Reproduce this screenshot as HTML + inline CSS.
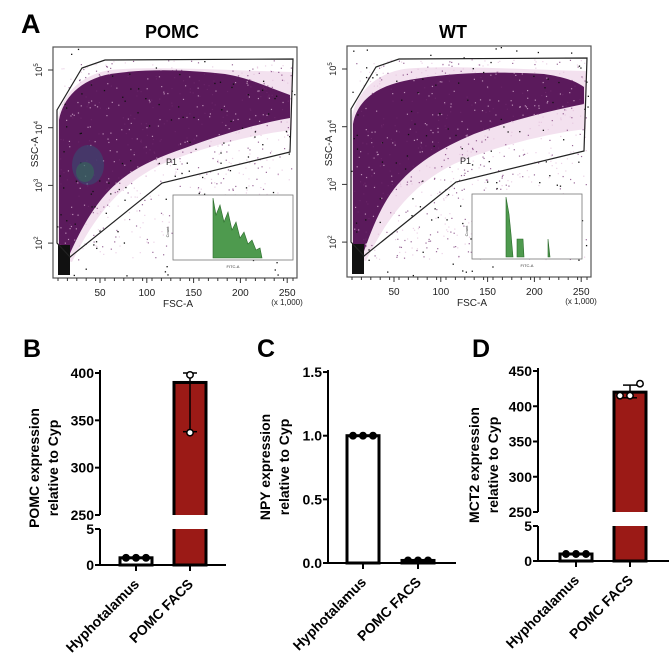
<!DOCTYPE html>
<html><head><meta charset="utf-8"><style>
html,body{margin:0;padding:0;background:#fff;}
svg{display:block;font-family:"Liberation Sans",Arial,sans-serif;}
.t{font-weight:bold;font-size:14px;}
</style></head><body>
<svg id="fig" width="669" height="661" viewBox="0 0 669 661">
<text x="21" y="33" font-size="27" font-weight="bold">A</text>
<text x="172" y="38" font-size="18" font-weight="bold" text-anchor="middle">POMC</text>
<text x="453" y="38" font-size="18" font-weight="bold" text-anchor="middle">WT</text>
<g id="flowA"></g>
<g id="flowB" transform="translate(294,-1)"></g>
<text x="23" y="357" font-size="25" font-weight="bold">B</text>
<text x="257" y="357" font-size="25" font-weight="bold">C</text>
<text x="472" y="357" font-size="25" font-weight="bold">D</text>
<g id="chartB"></g>
<g id="chartC"></g>
<g id="chartD"></g>
</svg>
<script>
// ---- bar chart data ----
const categories = ["Hyphotalamus", "POMC FACS"];
const pomcMeans = [1, 390];
const pomcPoints = [[1, 1, 1], [398, 337]];
const pomcErr = [[1, 1], [338, 400]];
const npyMeans = [1.0, 0.02];
const npyPoints = [[1, 1, 1], [0.02, 0.02, 0.02]];
const mct2Means = [1, 420];
const mct2Points = [[1, 1, 1], [415, 415, 432]];
const mct2Err = [[1, 1], [412, 430]];
const pomcTicksUpper = [250, 300, 350, 400];
const pomcTicksLower = [0, 5];
const npyTicks = [0.0, 0.5, 1.0, 1.5];
const npyTickLabels = ["0.0", "0.5", "1.0", "1.5"];
const mct2TicksUpper = [250, 300, 350, 400, 450];
const mct2TicksLower = [0, 5];
// ---- flow axis labels ----
const fscTicks = ["50", "100", "150", "200", "250"];
const sscTicks = ["5", "4", "3", "2"];

const NS = "http://www.w3.org/2000/svg";
function mk(parent, tag, attrs, txt) {
  const e = document.createElementNS(NS, tag);
  for (const k in attrs) e.setAttribute(k, attrs[k]);
  if (txt !== undefined) e.textContent = txt;
  parent.appendChild(e);
  return e;
}

// ---------- flow plots ----------
let seed = 7;
function rnd() { seed = (seed * 16807) % 2147483647; return seed / 2147483647; }
function flow(g, pomc) {
  const L = 53, T = 47, R = 297, B = 278;
  const fr = mk(g, "rect", {x: L, y: T, width: R - L, height: B - T, fill: "#fff", stroke: "#555", "stroke-width": 1.2});
  
  
  // light pink fringe
  mk(g, "path", {d: "M58,258 L58,118 C62,95 80,75 110,70 C150,66 220,70 292,72 L292,130 C250,135 200,148 160,165 C120,185 95,215 72,262 Z", fill: "#f3e1ef"});
  // dense purple
  const dp = mk(g, "path", {d: pomc ?
    "M59,252 L59,120 C63,98 80,80 110,74 C150,68 190,70 225,74 C250,78 270,88 290,95 L290,118 C255,124 220,135 185,148 C150,160 125,172 105,195 C90,212 78,235 68,258 Z" :
    "M59,252 L59,125 C63,102 82,88 110,82 C150,74 200,72 250,75 C270,78 282,82 290,88 L290,105 C255,112 215,122 180,135 C145,150 120,165 100,190 C85,210 76,235 68,258 Z",
    fill: "#5b1a5c"});
  
  
  // speckles
  for (let i = 0; i < 700; i++) {
    const x = 60 + rnd() * 232, y = 60 + rnd() * 200;
    mk(g, "rect", {x: x, y: y, width: 1.2, height: 1.2, fill: rnd() < 0.5 ? "#6e2a6c" : "#e3bfdc", opacity: 0.7});
  }
  for (let i = 0; i < 120; i++) {
    mk(g, "rect", {x: 55 + rnd() * 240, y: 48 + rnd() * 228, width: 1.3, height: 1.3, fill: "#111"});
  }
  if (pomc) {
    mk(g, "ellipse", {cx: 88, cy: 165, rx: 16, ry: 20, fill: "#2d5a7a", opacity: 0.45});
    mk(g, "ellipse", {cx: 85, cy: 172, rx: 9, ry: 10, fill: "#2f7a55", opacity: 0.45});
  }
  mk(g, "rect", {x: 58, y: 245, width: 12, height: 30, fill: "#111"});
  const gate = mk(g, "polygon", {points: "57,243 57,110 82,68 105,60 293,59 290,152 162,183 70,257", fill: "none", stroke: "#222", "stroke-width": 1.2});
  
  
  mk(g, "text", {x: 166, y: 165, "font-size": 9, fill: "#222"}, "P1");
  const ix = pomc ? 173 : 178, iw = pomc ? 120 : 110;
  mk(g, "rect", {x: ix, y: 195, width: iw, height: 65, fill: "#fff", stroke: "#777", "stroke-width": 0.8});
  let hp;
  if (pomc) {
    hp = "M213,258 L213,198 L216,215 L220,205 L224,222 L228,212 L232,230 L236,222 L240,238 L244,232 L248,244 L252,240 L256,250 L260,248 L262,258 Z";
  } else {
    hp = "M212,258 L212,198 L215,215 L217,235 L219,258 Z M223,258 L223,240 L229,240 L230,258 Z M254,258 L254,240 L256,258 Z";
  }
  const h = mk(g, "path", {d: hp, fill: "#4e9a4e", stroke: "#2a6a2a", "stroke-width": 0.6});
  
  
  mk(g, "text", {x: ix + iw / 2, y: 268, "font-size": 4, "text-anchor": "middle", fill: "#333"}, "FITC-A");
  mk(g, "text", {x: ix - 4, y: 232, "font-size": 4, "text-anchor": "middle", fill: "#333", transform: `rotate(-90 ${ix - 4} 232)`}, "Count");
  fscTicks.forEach((t, i) => {
    const x = 100 + i * 46.8;
    mk(g, "line", {x1: x, y1: B, x2: x, y2: B + 5, stroke: "#333"});
    mk(g, "text", {x: x, y: 296, "font-size": 10, "text-anchor": "middle", fill: "#222"}, t);
  });
  for (let i = 0; i < 26; i++) mk(g, "line", {x1: 58 + i * 9.4, y1: B, x2: 58 + i * 9.4, y2: B + 3, stroke: "#333"});
  mk(g, "text", {x: 178, y: 307, "font-size": 10, "text-anchor": "middle", fill: "#222"}, "FSC-A");
  mk(g, "text", {x: 287, y: 305, "font-size": 8, "text-anchor": "middle", fill: "#222"}, "(x 1,000)");
  sscTicks.forEach((t, i) => {
    const y = 70 + i * 57.7;
    mk(g, "line", {x1: L - 5, y1: y, x2: L, y2: y, stroke: "#333"});
    const tx = mk(g, "text", {x: 42, y: y, "font-size": 9, "text-anchor": "middle", fill: "#222", transform: `rotate(-90 42 ${y})`});
    tx.textContent = "10";
    mk(tx, "tspan", {dy: -4, "font-size": 6}, t);
  });
  mk(g, "text", {x: 38, y: 152, "font-size": 10, "text-anchor": "middle", fill: "#222", transform: "rotate(-90 38 152)"}, "SSC-A");
}
flow(document.getElementById("flowA"), true);
flow(document.getElementById("flowB"), false);

// ---------- bar charts ----------
function chart(g, cfg) {
  const y = cfg.y;
  cfg.segments.forEach(s => {
    const ax = mk(g, "line", {x1: cfg.ax, y1: s[0], x2: cfg.ax, y2: s[1], stroke: "#000", "stroke-width": 2});
    
    
  });
  mk(g, "line", {x1: cfg.ax, y1: cfg.base, x2: cfg.xend, y2: cfg.base, stroke: "#000", "stroke-width": 2});
  cfg.ticks.forEach((t, i) => {
    const yy = y(t);
    mk(g, "line", {x1: cfg.ax - 5, y1: yy, x2: cfg.ax, y2: yy, stroke: "#000", "stroke-width": 2});
    const lb = mk(g, "text", {x: cfg.ax - 6, y: yy + 5, "text-anchor": "end", class: "t"}, cfg.tickLabels ? cfg.tickLabels[i] : String(t));
    
    
  });
  cfg.means.forEach((m, i) => {
    const cx = cfg.cx[i];
    const top = y(m);
    const bar = mk(g, "rect", {x: cx - 16, y: top, width: 32, height: cfg.base - top, fill: i ? cfg.color : "#fff", stroke: "#000", "stroke-width": 3});
    
    
    if (cfg.breakY && i === 1) mk(g, "rect", {x: cx - 20, y: cfg.breakY[0], width: 40, height: cfg.breakY[1] - cfg.breakY[0], fill: "#fff"});
    if (cfg.err && i === 1) {
      const e = cfg.err[i];
      mk(g, "line", {x1: cx, y1: y(e[0]), x2: cx, y2: y(e[1]), stroke: "#000", "stroke-width": 1.5});
      mk(g, "line", {x1: cx - 7, y1: y(e[0]), x2: cx + 7, y2: y(e[0]), stroke: "#000", "stroke-width": 1.5});
      mk(g, "line", {x1: cx - 7, y1: y(e[1]), x2: cx + 7, y2: y(e[1]), stroke: "#000", "stroke-width": 1.5});
    }
    const pts = cfg.points[i];
    pts.forEach((p, j) => {
      const off = pts.length === 3 ? (j - 1) * 10 : 0;
      const c = mk(g, "circle", {cx: cx + off, cy: y(p), r: 3.2, fill: i && p > 5 ? "#fff" : "#000", stroke: "#000", "stroke-width": 1.5});
      
      
    });
    mk(g, "line", {x1: cx, y1: cfg.base, x2: cx, y2: cfg.base + 6, stroke: "#000", "stroke-width": 2});
    const xl = mk(g, "text", {x: cx + 4, y: cfg.base + 20, "text-anchor": "end", class: "t", "font-size": 14, transform: `rotate(-45 ${cx + 4} ${cfg.base + 20})`}, categories[i]);
    
    
  });
  const yt = mk(g, "text", {x: 0, y: 0, "text-anchor": "middle", class: "t", "font-size": 15.5, transform: `translate(${cfg.lx},${cfg.ly}) rotate(-90)`});
  
  
  mk(yt, "tspan", {x: 0, dy: 0}, cfg.title[0]);
  mk(yt, "tspan", {x: 0, dy: 19}, cfg.title[1]);
}
function brokenScale(u0, u1, yu0, yu1, l0, l1, yl0, yl1) {
  return v => v > l1 ? yu0 + (v - u0) * (yu1 - yu0) / (u1 - u0) : yl0 + (v - l0) * (yl1 - yl0) / (l1 - l0);
}
const yB = brokenScale(250, 400, 515, 373, 0, 5, 565, 529);
chart(document.getElementById("chartB"), {y: yB, ax: 100, base: 565, xend: 226, segments: [[370, 515], [529, 565]],
  ticks: pomcTicksLower.concat(pomcTicksUpper), means: pomcMeans, points: pomcPoints, err: pomcErr, cx: [136, 190],
  color: "#9b1a16", breakY: [515, 529], lx: 39, ly: 468, title: ["POMC expression", "relative to Cyp"]});
const yC = v => 563 - v * 127.3;
chart(document.getElementById("chartC"), {y: yC, ax: 328, base: 563, xend: 456, segments: [[370, 563]],
  ticks: npyTicks, tickLabels: npyTickLabels, means: npyMeans, points: npyPoints, cx: [363, 418],
  color: "#9b1a16", lx: 270, ly: 467, title: ["NPY expression", "relative to Cyp"]});
const yD = brokenScale(250, 450, 512, 371, 0, 5, 561, 526);
chart(document.getElementById("chartD"), {y: yD, ax: 538, base: 561, xend: 669, segments: [[368, 512], [526, 561]],
  ticks: mct2TicksLower.concat(mct2TicksUpper), means: mct2Means, points: mct2Points, err: mct2Err, cx: [576, 630],
  color: "#9b1a16", breakY: [512, 526], lx: 479, ly: 465, title: ["MCT2 expression", "relative to Cyp"]});
</script>
</body></html>
